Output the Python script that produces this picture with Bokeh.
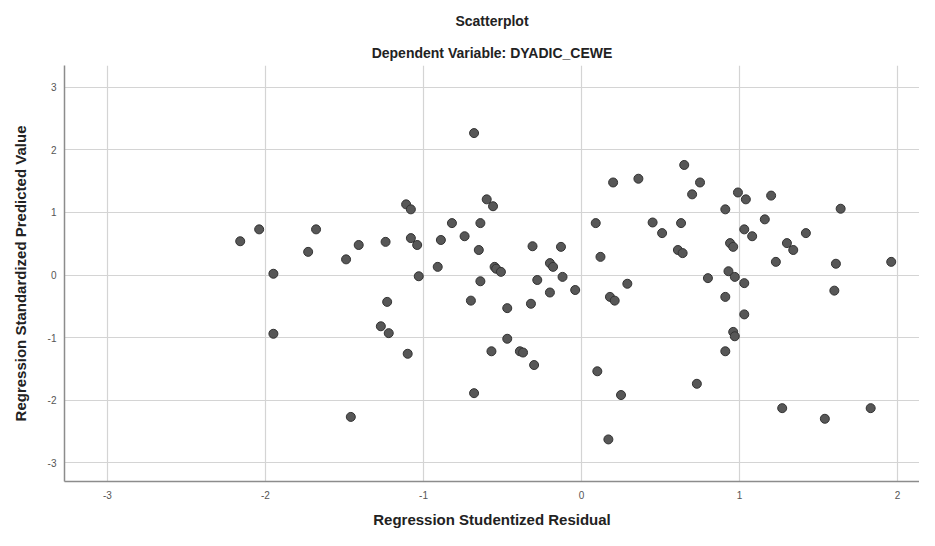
from bokeh.plotting import figure
from bokeh.models import FixedTicker, Title, Range1d
from bokeh.embed import file_html
from bokeh.resources import INLINE

title_text = "Scatterplot"
subtitle_text = "Dependent Variable: DYADIC_CEWE"
x_label = "Regression Studentized Residual"
y_label = "Regression Standardized Predicted Value"
x_ticks = [-3, -2, -1, 0, 1, 2]
y_ticks = [-3, -2, -1, 0, 1, 2, 3]

residual = [
    -2.16, -2.04, -1.95, -1.95, -1.73, -1.68, -1.49, -1.46, -1.41, -1.24,
    -1.23, -1.27, -1.22, -1.11, -1.08, -1.08, -1.04, -1.10, -1.03, -0.89,
    -0.91, -0.82, -0.74, -0.68, -0.70, -0.68, -0.65, -0.64, -0.64, -0.60,
    -0.56, -0.57, -0.55, -0.54, -0.51, -0.47, -0.47, -0.39, -0.37, -0.31,
    -0.32, -0.30, -0.28, -0.20, -0.20, -0.18, -0.13, -0.12, -0.04,
    0.09, 0.12, 0.10, 0.17, 0.20, 0.18, 0.21, 0.25, 0.29, 0.36,
    0.45, 0.51, 0.61, 0.64, 0.63, 0.65, 0.70, 0.73, 0.75, 0.80,
    0.91, 0.91, 0.91, 0.93, 0.94, 0.96, 0.96, 0.97, 0.97, 0.99,
    1.03, 1.03, 1.03, 1.04, 1.08, 1.16, 1.20, 1.23, 1.27, 1.30,
    1.34, 1.42, 1.54, 1.60, 1.61, 1.64, 1.83, 1.96,
]
predicted = [
    0.54, 0.73, 0.02, -0.94, 0.37, 0.73, 0.25, -2.27, 0.48, 0.53,
    -0.43, -0.82, -0.93, 1.13, 1.05, 0.59, 0.48, -1.26, -0.02, 0.56,
    0.13, 0.83, 0.62, 2.27, -0.41, -1.89, 0.40, 0.83, -0.10, 1.21,
    1.10, -1.22, 0.13, 0.10, 0.05, -0.53, -1.02, -1.22, -1.24, 0.46,
    -0.46, -1.44, -0.08, -0.28, 0.19, 0.13, 0.45, -0.03, -0.24,
    0.83, 0.29, -1.54, -2.63, 1.48, -0.35, -0.41, -1.92, -0.14, 1.54,
    0.84, 0.67, 0.40, 0.35, 0.83, 1.76, 1.29, -1.74, 1.48, -0.05,
    1.05, -0.35, -1.22, 0.06, 0.51, 0.45, -0.91, -0.98, -0.03, 1.32,
    -0.13, -0.63, 0.73, 1.21, 0.62, 0.89, 1.27, 0.21, -2.13, 0.51,
    0.40, 0.67, -2.30, -0.25, 0.18, 1.06, -2.13, 0.21,
]

FONT = "Liberation Sans"

p = figure(width=919, height=530, output_backend="svg", toolbar_location=None,
           x_range=Range1d(-3.272, 2.139), y_range=Range1d(-3.303, 3.351),
           min_border_left=64, min_border_right=0, min_border_top=0, min_border_bottom=0)
p.outline_line_color = None
p.background_fill_color = "white"
p.border_fill_color = "white"

p.add_layout(Title(text=subtitle_text, align="center", text_font=FONT, text_font_size="14px",
                   text_font_style="bold", text_color="#222222", standoff=9), "above")
p.add_layout(Title(text=title_text, align="center", text_font=FONT, text_font_size="14px",
                   text_font_style="bold", text_color="#222222", standoff=20), "above")

p.scatter(residual, predicted, size=9, fill_color="#575757", line_color="#333333",
          line_width=1, fill_alpha=1.0)

p.xaxis.ticker = FixedTicker(ticks=x_ticks)
p.yaxis.ticker = FixedTicker(ticks=y_ticks)
p.xaxis.major_label_overrides = {t: str(t) for t in x_ticks}
p.yaxis.major_label_overrides = {t: str(t) for t in y_ticks}
for ax in (p.xaxis[0], p.yaxis[0]):
    ax.axis_line_color = "#8c8c8c"
    ax.axis_line_width = 1.5
    ax.major_tick_line_color = None
    ax.minor_tick_line_color = None
    ax.major_tick_out = 0
    ax.major_tick_in = 0
    ax.minor_tick_out = 0
    ax.major_label_text_font = FONT
    ax.major_label_text_font_size = "10px"
    ax.major_label_text_color = "#555555"
    ax.axis_label_text_font = FONT
    ax.axis_label_text_font_size = "15px"
    ax.axis_label_text_font_style = "bold"
    ax.axis_label_text_color = "#222222"
p.xaxis.axis_label = x_label
p.yaxis.axis_label = y_label
p.xaxis.major_label_standoff = 9
p.yaxis.major_label_standoff = 8
p.xaxis.axis_label_standoff = 9
p.yaxis.axis_label_standoff = 16
p.yaxis.major_label_orientation = "horizontal"

p.xgrid.ticker = FixedTicker(ticks=x_ticks)
p.ygrid.ticker = FixedTicker(ticks=y_ticks)
p.grid.grid_line_color = "#d4d4d4"
p.grid.grid_line_width = 1.2

open("out.html", "w").write(file_html(p, INLINE))
